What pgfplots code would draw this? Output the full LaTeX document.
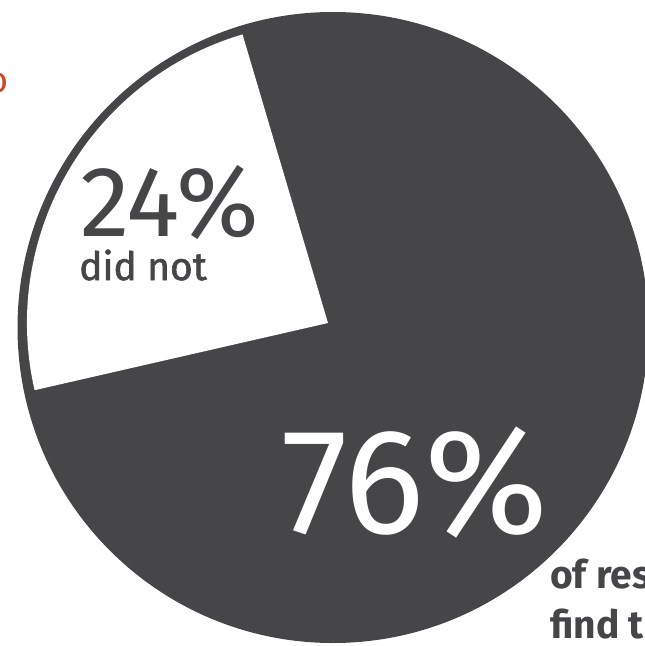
\documentclass[border=0pt]{standalone}
\usepackage{pgfplots}
\pgfplotsset{compat=1.18}
\usepackage{pgfplotstable}
\usepackage{fontspec}
\setmainfont{Fira Sans}
\newfontfamily\firamed{Fira Sans}[FakeBold=1.6]
\definecolor{piedark}{RGB}{70,70,72}
\definecolor{accent}{RGB}{206,70,40}
\pgfplotstableread{
label value
didnot 24
yes 76
}\piedata
\begin{document}
\begin{tikzpicture}
\pgfplotstablegetelem{0}{value}\of\piedata
\pgfmathsetmacro{\vwhite}{\pgfplotsretval}
\begin{axis}[x=1pt,y=1pt,xmin=0,xmax=645,ymin=0,ymax=646,y dir=reverse,
  hide axis,clip=false,scale only axis]
% dark 76% part: full disc
\fill[piedark] (axis cs:333,327.5) circle[radius=315.5pt];
% white 24% slice
\fill[white] (axis cs:328,323) -- ++(106.5:301pt)
   arc[start angle=106.5, delta angle={\vwhite*3.6}, radius=301pt] -- cycle;
\node[anchor=base west,inner sep=0pt,text=piedark,font=\fontsize{100}{100}\selectfont]
  at (axis cs:80,236) {24\%};
\node[anchor=base west,inner sep=0pt,text=piedark,font=\firamed\fontsize{39}{39}\selectfont]
  at (axis cs:79,280) {did not};
\node[anchor=base west,inner sep=0pt,text=white,font=\fontsize{150}{150}\selectfont]
  at (axis cs:281,533) {76\%};
\node[anchor=base west,inner sep=0pt,text=piedark,font=\bfseries\fontsize{39}{39}\selectfont]
  at (axis cs:550,588) {of respondents};
\node[anchor=base west,inner sep=0pt,text=piedark,font=\bfseries\fontsize{39}{39}\selectfont]
  at (axis cs:550,638) {find that};
\node[anchor=base east,inner sep=0pt,text=accent,font=\fontsize{36}{36}\selectfont]
  at (axis cs:9,92) {to};
\end{axis}
\pgfresetboundingbox
\useasboundingbox (0,0) rectangle (645pt,646pt);
\end{tikzpicture}
\end{document}
